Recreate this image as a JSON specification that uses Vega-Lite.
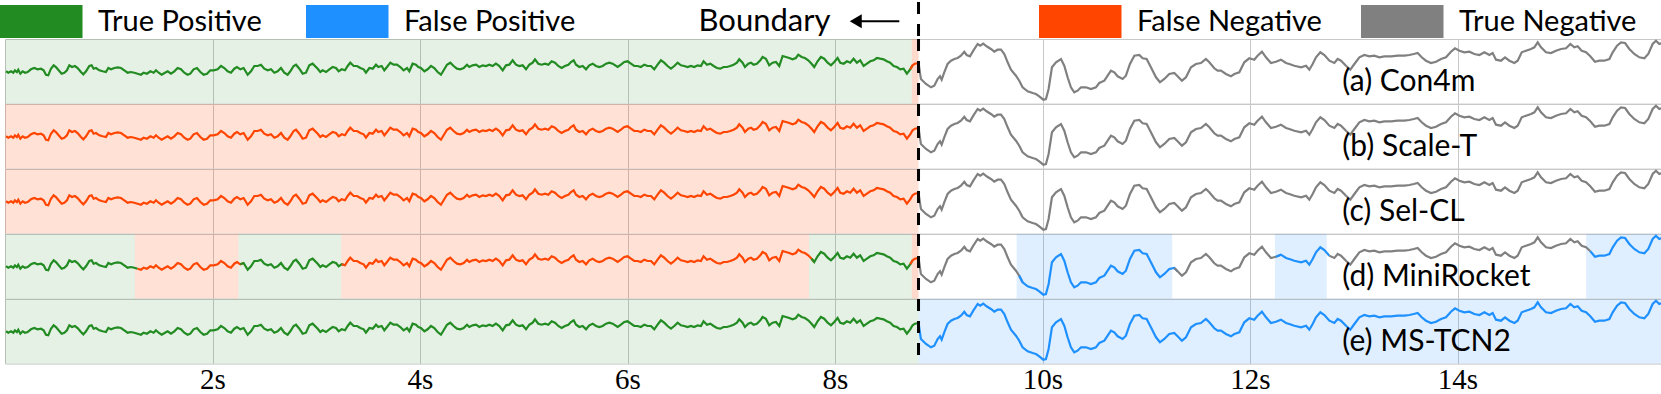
{
  "$schema": "https://vega.github.io/schema/vega-lite/v6.json",
  "padding": 0,
  "spacing": 0,
  "bounds": "flush",
  "background": "white",
  "config": {
    "view": {"stroke": "#c8c8c8", "strokeWidth": 1},
    "axis": {"grid": true, "gridColor": "#c8c8c8", "gridWidth": 1, "domain": false, "ticks": false, "title": null, "labelFont": "Liberation Serif", "labelFontSize": 29, "labelColor": "black", "labelPadding": 2},
    "legend": {"orient": "none", "direction": "horizontal", "title": null, "padding": 0, "symbolType": "M-1,-1H4V1H-1Z", "symbolSize": 1089, "symbolStrokeWidth": 0, "symbolOpacity": 1, "labelFont": "Lato", "labelFontSize": 29, "labelColor": "black", "labelOffset": 65, "labelLimit": 400},
    "concat": {"spacing": 0}
  },
  "datasets": {
    "bnd": [{"t": 8.805, "label": "Boundary"}],
    "models": [
      {"id": "a", "name": "(a) Con4m"},
      {"id": "b", "name": "(b) Scale-T"},
      {"id": "c", "name": "(c) Sel-CL"},
      {"id": "d", "name": "(d) MiniRocket"},
      {"id": "e", "name": "(e) MS-TCN2"}
    ],
    "segs": [
      {"model": "a", "start": 0, "end": 8.74, "cls": "True Positive"},
      {"model": "a", "start": 8.74, "end": 8.805, "cls": "False Negative (edge)"},
      {"model": "b", "start": 0, "end": 8.805, "cls": "False Negative"},
      {"model": "c", "start": 0, "end": 8.805, "cls": "False Negative"},
      {"model": "d", "start": 0, "end": 1.25, "cls": "True Positive"},
      {"model": "d", "start": 1.25, "end": 2.25, "cls": "False Negative"},
      {"model": "d", "start": 2.25, "end": 3.24, "cls": "True Positive"},
      {"model": "d", "start": 3.24, "end": 7.75, "cls": "False Negative"},
      {"model": "d", "start": 7.75, "end": 8.74, "cls": "True Positive"},
      {"model": "d", "start": 8.74, "end": 8.805, "cls": "False Negative (edge)"},
      {"model": "d", "start": 9.75, "end": 11.25, "cls": "False Positive"},
      {"model": "d", "start": 12.24, "end": 12.74, "cls": "False Positive"},
      {"model": "d", "start": 15.24, "end": 16, "cls": "False Positive"},
      {"model": "e", "start": 0, "end": 8.805, "cls": "True Positive"},
      {"model": "e", "start": 8.805, "end": 16, "cls": "False Positive"}
    ],
    "sig": [
      {"t":0.01,"v":31.7},{"t":0.032,"v":30.3},{"t":0.058,"v":31.7},{"t":0.08,"v":30.3},{"t":0.096,"v":32.7},{"t":0.115,"v":31},{"t":0.128,"v":33.3},{"t":0.148,"v":29.3},{"t":0.17,"v":31.7},{"t":0.193,"v":30.3},
      {"t":0.218,"v":31},{"t":0.25,"v":33.7},{"t":0.282,"v":35},{"t":0.315,"v":33.7},{"t":0.347,"v":34.3},{"t":0.372,"v":32.7},{"t":0.395,"v":28.3},{"t":0.417,"v":27.7},{"t":0.443,"v":34.3},{"t":0.469,"v":37.7},
      {"t":0.491,"v":36},{"t":0.517,"v":32.7},{"t":0.546,"v":29.3},{"t":0.572,"v":30.3},{"t":0.597,"v":32.7},{"t":0.62,"v":37.7},{"t":0.646,"v":36},{"t":0.674,"v":37},{"t":0.7,"v":35},{"t":0.732,"v":31},
      {"t":0.755,"v":28.7},{"t":0.781,"v":31.7},{"t":0.813,"v":37},{"t":0.835,"v":37.7},{"t":0.854,"v":34.3},{"t":0.877,"v":35},{"t":0.909,"v":32.7},{"t":0.941,"v":31.7},{"t":0.973,"v":31},{"t":0.996,"v":35},
      {"t":1.022,"v":33.7},{"t":1.054,"v":35},{"t":1.086,"v":35.7},{"t":1.118,"v":35},{"t":1.15,"v":32.7},{"t":1.182,"v":30.3},{"t":1.214,"v":31},{"t":1.246,"v":30.3},{"t":1.278,"v":29.3},{"t":1.311,"v":28.3},
      {"t":1.336,"v":30.3},{"t":1.368,"v":29.3},{"t":1.401,"v":31.7},{"t":1.433,"v":30.3},{"t":1.455,"v":32.7},{"t":1.481,"v":30.3},{"t":1.51,"v":28.3},{"t":1.542,"v":30.3},{"t":1.568,"v":31.7},{"t":1.6,"v":29.3},
      {"t":1.632,"v":31.7},{"t":1.664,"v":35},{"t":1.696,"v":33.7},{"t":1.728,"v":30.3},{"t":1.76,"v":28.3},{"t":1.786,"v":29.3},{"t":1.818,"v":33.7},{"t":1.85,"v":35},{"t":1.883,"v":31},{"t":1.915,"v":28.3},
      {"t":1.947,"v":29.3},{"t":1.979,"v":32.7},{"t":2.011,"v":32.7},{"t":2.05,"v":33.7},{"t":2.082,"v":37},{"t":2.114,"v":35},{"t":2.146,"v":31.7},{"t":2.178,"v":30.3},{"t":2.21,"v":34.3},{"t":2.236,"v":36},
      {"t":2.268,"v":33.7},{"t":2.3,"v":35},{"t":2.339,"v":28.3},{"t":2.371,"v":31.7},{"t":2.403,"v":37},{"t":2.435,"v":37},{"t":2.467,"v":38.3},{"t":2.499,"v":34.3},{"t":2.532,"v":32.7},{"t":2.564,"v":33.7},
      {"t":2.596,"v":30.3},{"t":2.628,"v":31.7},{"t":2.66,"v":35},{"t":2.692,"v":30.3},{"t":2.724,"v":28.3},{"t":2.75,"v":31.7},{"t":2.782,"v":37},{"t":2.805,"v":38.3},{"t":2.837,"v":34.3},{"t":2.869,"v":29.3},
      {"t":2.901,"v":30.3},{"t":2.933,"v":37.7},{"t":2.965,"v":39.3},{"t":3.014,"v":34.3},{"t":3.039,"v":31},{"t":3.062,"v":32.7},{"t":3.094,"v":31},{"t":3.126,"v":33.7},{"t":3.158,"v":36},{"t":3.19,"v":35},
      {"t":3.216,"v":31.7},{"t":3.245,"v":33.7},{"t":3.277,"v":32.7},{"t":3.303,"v":37},{"t":3.328,"v":40.3},{"t":3.361,"v":37},{"t":3.393,"v":37},{"t":3.425,"v":35},{"t":3.457,"v":33.7},{"t":3.479,"v":30.3},
      {"t":3.512,"v":35},{"t":3.544,"v":34.3},{"t":3.576,"v":38.3},{"t":3.598,"v":36},{"t":3.63,"v":37},{"t":3.656,"v":32.7},{"t":3.682,"v":36},{"t":3.714,"v":40.3},{"t":3.746,"v":38.3},{"t":3.778,"v":38.3},
      {"t":3.81,"v":36},{"t":3.842,"v":32.7},{"t":3.875,"v":35},{"t":3.897,"v":31.7},{"t":3.929,"v":39.3},{"t":3.961,"v":38.3},{"t":3.984,"v":36},{"t":4.009,"v":35},{"t":4.042,"v":31.7},{"t":4.074,"v":33.7},
      {"t":4.106,"v":37},{"t":4.138,"v":35},{"t":4.17,"v":31},{"t":4.202,"v":28.3},{"t":4.228,"v":32.7},{"t":4.26,"v":38.3},{"t":4.292,"v":40.3},{"t":4.324,"v":37},{"t":4.356,"v":34.3},{"t":4.389,"v":33.7},
      {"t":4.421,"v":35},{"t":4.453,"v":38.3},{"t":4.475,"v":36},{"t":4.507,"v":37.7},{"t":4.54,"v":38.3},{"t":4.572,"v":36},{"t":4.604,"v":37.7},{"t":4.636,"v":37},{"t":4.668,"v":38.3},{"t":4.7,"v":37},
      {"t":4.732,"v":39.3},{"t":4.765,"v":37},{"t":4.797,"v":32.7},{"t":4.829,"v":37.7},{"t":4.861,"v":38.3},{"t":4.893,"v":42.7},{"t":4.925,"v":38.3},{"t":4.957,"v":37},{"t":4.989,"v":37.7},{"t":5.022,"v":33.7},
      {"t":5.054,"v":38.3},{"t":5.086,"v":40.3},{"t":5.108,"v":43.7},{"t":5.14,"v":39.3},{"t":5.173,"v":38.3},{"t":5.205,"v":39.3},{"t":5.237,"v":38.3},{"t":5.269,"v":41.7},{"t":5.301,"v":40.3},{"t":5.333,"v":37},
      {"t":5.365,"v":35},{"t":5.397,"v":37},{"t":5.43,"v":38.3},{"t":5.455,"v":41},{"t":5.481,"v":42.7},{"t":5.504,"v":38.3},{"t":5.536,"v":36},{"t":5.568,"v":37},{"t":5.6,"v":33.7},{"t":5.632,"v":37.7},
      {"t":5.664,"v":39.3},{"t":5.696,"v":37},{"t":5.728,"v":36},{"t":5.761,"v":37},{"t":5.793,"v":39.3},{"t":5.825,"v":40.3},{"t":5.857,"v":39.3},{"t":5.905,"v":36},{"t":5.937,"v":38.3},{"t":5.969,"v":41},
      {"t":6.001,"v":41.7},{"t":6.033,"v":39.3},{"t":6.065,"v":37},{"t":6.097,"v":37},{"t":6.129,"v":36},{"t":6.162,"v":38.3},{"t":6.194,"v":37},{"t":6.226,"v":37},{"t":6.258,"v":33.7},{"t":6.29,"v":38.3},
      {"t":6.322,"v":42.7},{"t":6.354,"v":40.3},{"t":6.386,"v":37},{"t":6.419,"v":34.3},{"t":6.451,"v":37},{"t":6.483,"v":40.3},{"t":6.515,"v":37.7},{"t":6.547,"v":37},{"t":6.579,"v":36},{"t":6.611,"v":37},
      {"t":6.643,"v":36},{"t":6.676,"v":37.7},{"t":6.708,"v":37},{"t":6.733,"v":41.7},{"t":6.766,"v":38.3},{"t":6.798,"v":39.3},{"t":6.83,"v":37},{"t":6.862,"v":35},{"t":6.894,"v":34.3},{"t":6.926,"v":36},
      {"t":6.958,"v":36},{"t":6.99,"v":37},{"t":7.023,"v":38.3},{"t":7.055,"v":40.3},{"t":7.077,"v":43.7},{"t":7.109,"v":40.3},{"t":7.132,"v":36},{"t":7.164,"v":39.3},{"t":7.19,"v":40.3},{"t":7.215,"v":38.3},
      {"t":7.247,"v":39.3},{"t":7.28,"v":42.7},{"t":7.302,"v":46},{"t":7.334,"v":44.3},{"t":7.366,"v":37.7},{"t":7.398,"v":40.3},{"t":7.431,"v":41},{"t":7.463,"v":37},{"t":7.495,"v":47},{"t":7.527,"v":46},
      {"t":7.559,"v":45},{"t":7.591,"v":43.7},{"t":7.623,"v":45},{"t":7.646,"v":48.3},{"t":7.678,"v":46},{"t":7.71,"v":45},{"t":7.742,"v":42.7},{"t":7.774,"v":39.3},{"t":7.8,"v":36},{"t":7.832,"v":41.7},
      {"t":7.864,"v":46},{"t":7.896,"v":44.3},{"t":7.929,"v":40.3},{"t":7.961,"v":37.7},{"t":7.993,"v":41},{"t":8.025,"v":45},{"t":8.051,"v":40.3},{"t":8.083,"v":39.3},{"t":8.115,"v":41.7},{"t":8.147,"v":40.3},
      {"t":8.179,"v":44.3},{"t":8.211,"v":40.3},{"t":8.243,"v":42.7},{"t":8.276,"v":37},{"t":8.308,"v":39.3},{"t":8.34,"v":41.7},{"t":8.372,"v":42.7},{"t":8.404,"v":45},{"t":8.436,"v":44.3},{"t":8.468,"v":43.7},
      {"t":8.5,"v":41.7},{"t":8.532,"v":40.3},{"t":8.565,"v":37},{"t":8.597,"v":36},{"t":8.629,"v":33.7},{"t":8.661,"v":34.3},{"t":8.693,"v":29.3},{"t":8.725,"v":33.7},{"t":8.748,"v":37.7},{"t":8.77,"v":39.3},
      {"t":8.805,"v":40},{"t":8.828,"v":24},{"t":8.877,"v":19},{"t":8.925,"v":15.7},{"t":8.957,"v":17.3},{"t":8.989,"v":24},{"t":9.012,"v":26.7},{"t":9.028,"v":23.3},{"t":9.053,"v":30.7},{"t":9.085,"v":39},
      {"t":9.118,"v":42.3},{"t":9.15,"v":44},{"t":9.182,"v":45},{"t":9.214,"v":47.3},{"t":9.246,"v":51.3},{"t":9.269,"v":48},{"t":9.301,"v":46.7},{"t":9.333,"v":52.3},{"t":9.375,"v":59},{"t":9.4,"v":57.3},
      {"t":9.429,"v":59.3},{"t":9.461,"v":56.7},{"t":9.503,"v":54},{"t":9.535,"v":51.3},{"t":9.567,"v":53.3},{"t":9.6,"v":53.3},{"t":9.632,"v":49},{"t":9.664,"v":40.7},{"t":9.696,"v":33.3},{"t":9.744,"v":27.3},
      {"t":9.776,"v":22.3},{"t":9.808,"v":15.7},{"t":9.857,"v":11.7},{"t":9.905,"v":10},{"t":9.937,"v":9},{"t":9.969,"v":6.7},{"t":10.008,"v":3.3},{"t":10.033,"v":4},{"t":10.059,"v":14},{"t":10.091,"v":35.7},
      {"t":10.13,"v":40.7},{"t":10.178,"v":44},{"t":10.21,"v":37.3},{"t":10.242,"v":25.7},{"t":10.274,"v":15.7},{"t":10.306,"v":10.7},{"t":10.338,"v":12.3},{"t":10.371,"v":15.7},{"t":10.419,"v":15.7},{"t":10.467,"v":14},
      {"t":10.515,"v":15.7},{"t":10.547,"v":20},{"t":10.596,"v":22.3},{"t":10.628,"v":27.3},{"t":10.66,"v":32.3},{"t":10.692,"v":30.7},{"t":10.724,"v":26.7},{"t":10.772,"v":24},{"t":10.804,"v":27.3},{"t":10.843,"v":39},
      {"t":10.885,"v":47.3},{"t":10.933,"v":48},{"t":10.965,"v":44.7},{"t":11.004,"v":44},{"t":11.045,"v":35.7},{"t":11.094,"v":25.7},{"t":11.132,"v":20.7},{"t":11.174,"v":24},{"t":11.222,"v":29},{"t":11.27,"v":30},
      {"t":11.302,"v":26.7},{"t":11.344,"v":22.3},{"t":11.383,"v":25.7},{"t":11.431,"v":35.7},{"t":11.479,"v":39},{"t":11.527,"v":40},{"t":11.575,"v":44},{"t":11.608,"v":40.7},{"t":11.656,"v":34.7},{"t":11.688,"v":32.3},
      {"t":11.72,"v":32.3},{"t":11.768,"v":29},{"t":11.816,"v":26.7},{"t":11.849,"v":29},{"t":11.897,"v":30.7},{"t":11.945,"v":40.7},{"t":11.993,"v":44.7},{"t":12.041,"v":43.3},{"t":12.073,"v":47.3},{"t":12.115,"v":51.3},
      {"t":12.154,"v":45.7},{"t":12.202,"v":40},{"t":12.25,"v":41.3},{"t":12.298,"v":43.3},{"t":12.347,"v":40},{"t":12.379,"v":39},{"t":12.427,"v":37.3},{"t":12.492,"v":35.7},{"t":12.54,"v":37.3},{"t":12.572,"v":33.3},
      {"t":12.604,"v":39},{"t":12.636,"v":45.7},{"t":12.678,"v":50.7},{"t":12.717,"v":48},{"t":12.765,"v":42.3},{"t":12.813,"v":40},{"t":12.845,"v":44},{"t":12.877,"v":42.3},{"t":12.925,"v":37.3},{"t":12.967,"v":33.3},
      {"t":13.006,"v":39},{"t":13.054,"v":45.7},{"t":13.102,"v":48},{"t":13.15,"v":46.7},{"t":13.198,"v":47.3},{"t":13.247,"v":45.7},{"t":13.295,"v":46.7},{"t":13.359,"v":46.7},{"t":13.423,"v":47.3},{"t":13.488,"v":47.3},
      {"t":13.536,"v":48},{"t":13.578,"v":49},{"t":13.616,"v":50},{"t":13.655,"v":45.7},{"t":13.696,"v":42.3},{"t":13.745,"v":40},{"t":13.793,"v":41.3},{"t":13.841,"v":44},{"t":13.889,"v":45.7},{"t":13.937,"v":51.3},
      {"t":13.976,"v":54.7},{"t":14.018,"v":52.3},{"t":14.066,"v":50.7},{"t":14.114,"v":51.3},{"t":14.162,"v":49},{"t":14.211,"v":48},{"t":14.259,"v":50.7},{"t":14.307,"v":48},{"t":14.339,"v":50},{"t":14.371,"v":43.3},
      {"t":14.419,"v":42.3},{"t":14.458,"v":45.7},{"t":14.5,"v":42.3},{"t":14.548,"v":40},{"t":14.58,"v":42.3},{"t":14.619,"v":50.7},{"t":14.66,"v":52.3},{"t":14.709,"v":54},{"t":14.741,"v":55.7},{"t":14.773,"v":60.7},
      {"t":14.805,"v":55.7},{"t":14.853,"v":50.7},{"t":14.901,"v":50},{"t":14.949,"v":52.3},{"t":14.998,"v":54},{"t":15.046,"v":54.7},{"t":15.088,"v":59},{"t":15.126,"v":55.7},{"t":15.158,"v":56.7},{"t":15.197,"v":52.3},
      {"t":15.239,"v":50.7},{"t":15.28,"v":46.7},{"t":15.325,"v":41.3},{"t":15.367,"v":42.3},{"t":15.415,"v":42.3},{"t":15.464,"v":44},{"t":15.496,"v":50.7},{"t":15.538,"v":57.3},{"t":15.576,"v":60.7},{"t":15.615,"v":60},
      {"t":15.656,"v":54},{"t":15.704,"v":49},{"t":15.753,"v":45.7},{"t":15.801,"v":44.7},{"t":15.839,"v":49},{"t":15.881,"v":59},{"t":15.913,"v":62.3},{"t":15.945,"v":59},{"t":15.994,"v":60.7}
    ]
  },
  "vconcat": [
    {
      "width": 1660, "height": 37, "view": {"stroke": null},
      "layer": [
        {"data": {"name": "bnd"}, "mark": {"type": "rule", "strokeDash": [12, 10], "strokeWidth": 3, "color": "black"},
         "encoding": {"x": {"field": "t", "type": "quantitative", "scale": {"domain": [0, 16], "nice": false}, "axis": null}}},
        {"data": {"name": "bnd"}, "mark": {"type": "text", "align": "right", "baseline": "middle", "dx": -88, "dy": 1, "font": "Lato", "fontSize": 31, "color": "black"},
         "encoding": {"x": {"field": "t", "type": "quantitative"}, "text": {"field": "label"}}},
        {"data": {"name": "bnd"}, "mark": {"type": "rule", "strokeWidth": 2.2, "color": "black"},
         "encoding": {"x": {"datum": 8.2, "type": "quantitative"}, "x2": {"datum": 8.62}, "y": {"datum": 0.48, "type": "quantitative", "scale": {"domain": [0, 1], "nice": false}, "axis": null}}},
        {"data": {"name": "bnd"}, "mark": {"type": "point", "shape": "triangle-left", "filled": true, "size": 190, "color": "black", "opacity": 1},
         "encoding": {"x": {"datum": 8.2, "type": "quantitative"}, "y": {"datum": 0.48, "type": "quantitative"}}}
      ]
    },
    {
      "width": 1660, "height": 64.6,
      "layer": [
        {"data": {"name": "segs"}, "transform": [{"filter": "datum.model === 'a'"}], "mark": {"type": "rect"},
         "encoding": {
           "x": {"field": "start", "type": "quantitative", "scale": {"domain": [0, 16], "nice": false}, "axis": {"values": [2, 4, 6, 8, 10, 12, 14], "labels": false, "labelPadding": 0, "minExtent": 0, "maxExtent": 0}},
           "x2": {"field": "end"},
           "fill": {"field": "cls", "type": "nominal", "scale": {"domain": ["True Positive", "False Positive", "False Negative", "True Negative", "False Negative (edge)"], "range": ["#228b22", "#1e90ff", "#ff4500", "#808080", "#ff4500"]},
                    "legend": {"values": ["False Negative", "True Negative"], "legendX": 1034, "legendY": 3, "columnPadding": 39,
                               "encode": {"symbols": {"update": {"fillOpacity": {"value": 1}, "opacity": {"value": 1}, "strokeWidth": {"value": 0}}}}}},
           "fillOpacity": {"field": "cls", "type": "nominal", "scale": {"domain": ["True Positive", "False Positive", "False Negative", "True Negative", "False Negative (edge)"], "range": [0.12, 0.2, 0.2, 0, 0.6]}, "legend": null}
         }},
        {"data": {"name": "sig"}, "transform": [{"filter": {"field": "t", "range": [0, 8.75]}}], "mark": {"type": "line", "strokeWidth": 2.2},
         "encoding": {"x": {"field": "t", "type": "quantitative"}, "y": {"field": "v", "type": "quantitative", "scale": {"domain": [-0.6, 64], "nice": false, "zero": false}, "axis": null},
           "stroke": {"datum": "True Positive", "type": "nominal", "scale": {"domain": ["True Positive", "False Positive", "False Negative", "True Negative"], "range": ["#228b22", "#1e90ff", "#ff4500", "#808080"]},
             "legend": {"values": ["True Positive", "False Positive"], "legendX": -5, "legendY": 3, "columnPadding": 44,
                        "encode": {"symbols": {"update": {"fill": {"scale": "stroke", "field": "value"}, "fillOpacity": {"value": 1}, "opacity": {"value": 1}, "strokeWidth": {"value": 0}}}}}}}},
        {"data": {"name": "sig"}, "transform": [{"filter": {"field": "t", "range": [8.72, 8.805]}}], "mark": {"type": "line", "strokeWidth": 2.2},
         "encoding": {"x": {"field": "t", "type": "quantitative"}, "y": {"field": "v", "type": "quantitative"}, "stroke": {"datum": "False Negative", "type": "nominal"}}},
        {"data": {"name": "sig"}, "transform": [{"filter": {"field": "t", "range": [8.805, 16]}}], "mark": {"type": "line", "strokeWidth": 2.2},
         "encoding": {"x": {"field": "t", "type": "quantitative"}, "y": {"field": "v", "type": "quantitative"}, "stroke": {"datum": "True Negative", "type": "nominal"}}},
        {"data": {"name": "bnd"}, "mark": {"type": "rule", "strokeDash": [12, 10], "strokeWidth": 3, "color": "black"},
         "encoding": {"x": {"field": "t", "type": "quantitative"}}},
        {"data": {"name": "models"}, "transform": [{"filter": "datum.id === 'a'"}], "mark": {"type": "text", "align": "left", "baseline": "middle", "font": "Lato", "fontSize": 30, "color": "black"},
         "encoding": {"x": {"datum": 12.89, "type": "quantitative"}, "y": {"datum": 21, "type": "quantitative"}, "text": {"field": "name"}}}
      ]
    },
    {
      "width": 1660, "height": 64.6,
      "layer": [
        {"data": {"name": "segs"}, "transform": [{"filter": "datum.model === 'b'"}], "mark": {"type": "rect"},
         "encoding": {
           "x": {"field": "start", "type": "quantitative", "scale": {"domain": [0, 16], "nice": false}, "axis": {"values": [2, 4, 6, 8, 10, 12, 14], "labels": false, "labelPadding": 0, "minExtent": 0, "maxExtent": 0}},
           "x2": {"field": "end"},
           "fill": {"field": "cls", "type": "nominal"},
           "fillOpacity": {"field": "cls", "type": "nominal", "legend": null}
         }},
        {"data": {"name": "sig"}, "transform": [{"filter": {"field": "t", "range": [0, 8.805]}}], "mark": {"type": "line", "strokeWidth": 2.2},
         "encoding": {"x": {"field": "t", "type": "quantitative"}, "y": {"field": "v", "type": "quantitative", "scale": {"domain": [-0.6, 64], "nice": false, "zero": false}, "axis": null}, "stroke": {"datum": "False Negative", "type": "nominal"}}},
        {"data": {"name": "sig"}, "transform": [{"filter": {"field": "t", "range": [8.805, 16]}}], "mark": {"type": "line", "strokeWidth": 2.2},
         "encoding": {"x": {"field": "t", "type": "quantitative"}, "y": {"field": "v", "type": "quantitative"}, "stroke": {"datum": "True Negative", "type": "nominal"}}},
        {"data": {"name": "bnd"}, "mark": {"type": "rule", "strokeDash": [12, 10], "strokeWidth": 3, "color": "black"},
         "encoding": {"x": {"field": "t", "type": "quantitative"}}},
        {"data": {"name": "models"}, "transform": [{"filter": "datum.id === 'b'"}], "mark": {"type": "text", "align": "left", "baseline": "middle", "font": "Lato", "fontSize": 30, "color": "black"},
         "encoding": {"x": {"datum": 12.89, "type": "quantitative"}, "y": {"datum": 21, "type": "quantitative"}, "text": {"field": "name"}}}
      ]
    },
    {
      "width": 1660, "height": 64.6,
      "layer": [
        {"data": {"name": "segs"}, "transform": [{"filter": "datum.model === 'c'"}], "mark": {"type": "rect"},
         "encoding": {
           "x": {"field": "start", "type": "quantitative", "scale": {"domain": [0, 16], "nice": false}, "axis": {"values": [2, 4, 6, 8, 10, 12, 14], "labels": false, "labelPadding": 0, "minExtent": 0, "maxExtent": 0}},
           "x2": {"field": "end"},
           "fill": {"field": "cls", "type": "nominal"},
           "fillOpacity": {"field": "cls", "type": "nominal", "legend": null}
         }},
        {"data": {"name": "sig"}, "transform": [{"filter": {"field": "t", "range": [0, 8.805]}}], "mark": {"type": "line", "strokeWidth": 2.2},
         "encoding": {"x": {"field": "t", "type": "quantitative"}, "y": {"field": "v", "type": "quantitative", "scale": {"domain": [-0.6, 64], "nice": false, "zero": false}, "axis": null}, "stroke": {"datum": "False Negative", "type": "nominal"}}},
        {"data": {"name": "sig"}, "transform": [{"filter": {"field": "t", "range": [8.805, 16]}}], "mark": {"type": "line", "strokeWidth": 2.2},
         "encoding": {"x": {"field": "t", "type": "quantitative"}, "y": {"field": "v", "type": "quantitative"}, "stroke": {"datum": "True Negative", "type": "nominal"}}},
        {"data": {"name": "bnd"}, "mark": {"type": "rule", "strokeDash": [12, 10], "strokeWidth": 3, "color": "black"},
         "encoding": {"x": {"field": "t", "type": "quantitative"}}},
        {"data": {"name": "models"}, "transform": [{"filter": "datum.id === 'c'"}], "mark": {"type": "text", "align": "left", "baseline": "middle", "font": "Lato", "fontSize": 30, "color": "black"},
         "encoding": {"x": {"datum": 12.89, "type": "quantitative"}, "y": {"datum": 21, "type": "quantitative"}, "text": {"field": "name"}}}
      ]
    },
    {
      "width": 1660, "height": 64.6,
      "layer": [
        {"data": {"name": "segs"}, "transform": [{"filter": "datum.model === 'd'"}], "mark": {"type": "rect"},
         "encoding": {
           "x": {"field": "start", "type": "quantitative", "scale": {"domain": [0, 16], "nice": false}, "axis": {"values": [2, 4, 6, 8, 10, 12, 14], "labels": false, "labelPadding": 0, "minExtent": 0, "maxExtent": 0}},
           "x2": {"field": "end"},
           "fill": {"field": "cls", "type": "nominal"},
           "fillOpacity": {"field": "cls", "type": "nominal", "legend": null}
         }},
        {"data": {"name": "sig"}, "transform": [{"filter": {"field": "t", "range": [0, 1.31]}}], "mark": {"type": "line", "strokeWidth": 2.2},
         "encoding": {"x": {"field": "t", "type": "quantitative"}, "y": {"field": "v", "type": "quantitative", "scale": {"domain": [-0.6, 64], "nice": false, "zero": false}, "axis": null}, "stroke": {"datum": "True Positive", "type": "nominal"}}},
        {"data": {"name": "sig"}, "transform": [{"filter": {"field": "t", "range": [1.25, 2.31]}}], "mark": {"type": "line", "strokeWidth": 2.2},
         "encoding": {"x": {"field": "t", "type": "quantitative"}, "y": {"field": "v", "type": "quantitative"}, "stroke": {"datum": "False Negative", "type": "nominal"}}},
        {"data": {"name": "sig"}, "transform": [{"filter": {"field": "t", "range": [2.25, 3.3]}}], "mark": {"type": "line", "strokeWidth": 2.2},
         "encoding": {"x": {"field": "t", "type": "quantitative"}, "y": {"field": "v", "type": "quantitative"}, "stroke": {"datum": "True Positive", "type": "nominal"}}},
        {"data": {"name": "sig"}, "transform": [{"filter": {"field": "t", "range": [3.24, 7.81]}}], "mark": {"type": "line", "strokeWidth": 2.2},
         "encoding": {"x": {"field": "t", "type": "quantitative"}, "y": {"field": "v", "type": "quantitative"}, "stroke": {"datum": "False Negative", "type": "nominal"}}},
        {"data": {"name": "sig"}, "transform": [{"filter": {"field": "t", "range": [7.75, 8.75]}}], "mark": {"type": "line", "strokeWidth": 2.2},
         "encoding": {"x": {"field": "t", "type": "quantitative"}, "y": {"field": "v", "type": "quantitative"}, "stroke": {"datum": "True Positive", "type": "nominal"}}},
        {"data": {"name": "sig"}, "transform": [{"filter": {"field": "t", "range": [8.72, 8.805]}}], "mark": {"type": "line", "strokeWidth": 2.2},
         "encoding": {"x": {"field": "t", "type": "quantitative"}, "y": {"field": "v", "type": "quantitative"}, "stroke": {"datum": "False Negative", "type": "nominal"}}},
        {"data": {"name": "sig"}, "transform": [{"filter": {"field": "t", "range": [8.805, 9.81]}}], "mark": {"type": "line", "strokeWidth": 2.2},
         "encoding": {"x": {"field": "t", "type": "quantitative"}, "y": {"field": "v", "type": "quantitative"}, "stroke": {"datum": "True Negative", "type": "nominal"}}},
        {"data": {"name": "sig"}, "transform": [{"filter": {"field": "t", "range": [9.75, 11.31]}}], "mark": {"type": "line", "strokeWidth": 2.2},
         "encoding": {"x": {"field": "t", "type": "quantitative"}, "y": {"field": "v", "type": "quantitative"}, "stroke": {"datum": "False Positive", "type": "nominal"}}},
        {"data": {"name": "sig"}, "transform": [{"filter": {"field": "t", "range": [11.25, 12.3]}}], "mark": {"type": "line", "strokeWidth": 2.2},
         "encoding": {"x": {"field": "t", "type": "quantitative"}, "y": {"field": "v", "type": "quantitative"}, "stroke": {"datum": "True Negative", "type": "nominal"}}},
        {"data": {"name": "sig"}, "transform": [{"filter": {"field": "t", "range": [12.24, 12.8]}}], "mark": {"type": "line", "strokeWidth": 2.2},
         "encoding": {"x": {"field": "t", "type": "quantitative"}, "y": {"field": "v", "type": "quantitative"}, "stroke": {"datum": "False Positive", "type": "nominal"}}},
        {"data": {"name": "sig"}, "transform": [{"filter": {"field": "t", "range": [12.74, 15.3]}}], "mark": {"type": "line", "strokeWidth": 2.2},
         "encoding": {"x": {"field": "t", "type": "quantitative"}, "y": {"field": "v", "type": "quantitative"}, "stroke": {"datum": "True Negative", "type": "nominal"}}},
        {"data": {"name": "sig"}, "transform": [{"filter": {"field": "t", "range": [15.24, 16]}}], "mark": {"type": "line", "strokeWidth": 2.2},
         "encoding": {"x": {"field": "t", "type": "quantitative"}, "y": {"field": "v", "type": "quantitative"}, "stroke": {"datum": "False Positive", "type": "nominal"}}},
        {"data": {"name": "bnd"}, "mark": {"type": "rule", "strokeDash": [12, 10], "strokeWidth": 3, "color": "black"},
         "encoding": {"x": {"field": "t", "type": "quantitative"}}},
        {"data": {"name": "models"}, "transform": [{"filter": "datum.id === 'd'"}], "mark": {"type": "text", "align": "left", "baseline": "middle", "font": "Lato", "fontSize": 30, "color": "black"},
         "encoding": {"x": {"datum": 12.89, "type": "quantitative"}, "y": {"datum": 21, "type": "quantitative"}, "text": {"field": "name"}}}
      ]
    },
    {
      "width": 1660, "height": 64.6,
      "layer": [
        {"data": {"name": "segs"}, "transform": [{"filter": "datum.model === 'e'"}], "mark": {"type": "rect"},
         "encoding": {
           "x": {"field": "start", "type": "quantitative", "scale": {"domain": [0, 16], "nice": false}, "axis": {"values": [2, 4, 6, 8, 10, 12, 14], "labelExpr": "datum.value + 's'"}},
           "x2": {"field": "end"},
           "fill": {"field": "cls", "type": "nominal"},
           "fillOpacity": {"field": "cls", "type": "nominal", "legend": null}
         }},
        {"data": {"name": "sig"}, "transform": [{"filter": {"field": "t", "range": [0, 8.805]}}], "mark": {"type": "line", "strokeWidth": 2.2},
         "encoding": {"x": {"field": "t", "type": "quantitative"}, "y": {"field": "v", "type": "quantitative", "scale": {"domain": [-0.6, 64], "nice": false, "zero": false}, "axis": null}, "stroke": {"datum": "True Positive", "type": "nominal"}}},
        {"data": {"name": "sig"}, "transform": [{"filter": {"field": "t", "range": [8.805, 16]}}], "mark": {"type": "line", "strokeWidth": 2.2},
         "encoding": {"x": {"field": "t", "type": "quantitative"}, "y": {"field": "v", "type": "quantitative"}, "stroke": {"datum": "False Positive", "type": "nominal"}}},
        {"data": {"name": "bnd"}, "mark": {"type": "rule", "strokeDash": [12, 10], "strokeWidth": 3, "color": "black"},
         "encoding": {"x": {"field": "t", "type": "quantitative"}}},
        {"data": {"name": "models"}, "transform": [{"filter": "datum.id === 'e'"}], "mark": {"type": "text", "align": "left", "baseline": "middle", "font": "Lato", "fontSize": 30, "color": "black"},
         "encoding": {"x": {"datum": 12.89, "type": "quantitative"}, "y": {"datum": 21, "type": "quantitative"}, "text": {"field": "name"}}}
      ]
    }
  ]
}
